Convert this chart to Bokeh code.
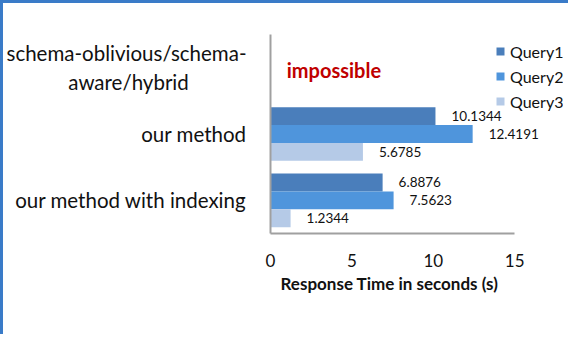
from bokeh.plotting import figure
from bokeh.models import (ColumnDataSource, FactorRange, Range1d, Legend, LegendItem,
                          FixedTicker, CustomJSTickFormatter, Title)
from bokeh.transform import dodge
from bokeh.core.properties import value
from bokeh.embed import file_html
from bokeh.resources import INLINE

# ---- data ----
categories = ["our method with indexing", "our method", "schema-oblivious/schema-aware/hybrid"]
measured = ["our method with indexing", "our method"]
query1 = [6.8876, 10.1344]
query2 = [7.5623, 12.4191]
query3 = [1.2344, 5.6785]
series_names = ["Query1", "Query2", "Query3"]
x_ticks = [0, 5, 10, 15]
x_title = "Response Time in seconds (s)"
note_text = "impossible"
note_category = "schema-oblivious/schema-aware/hybrid"
note_x = 1
wrapped_label = "schema-oblivious/schema-\naware/hybrid" + "\u00a0" * 11

colors = ["#4A7EBB", "#4F95DC", "#B5CAE7"]
offsets = [0.27, 0.0, -0.27]
FONT = "Lato"
BORDER = 3

p = figure(width=568, height=334, output_backend="svg", toolbar_location=None,
           x_range=Range1d(0, 18.0), y_range=FactorRange(*categories),
           min_border_left=260, min_border_right=8, min_border_top=31,
           min_border_bottom=104)
p.styles = {"border-top": f"{BORDER}px solid #3A7BC8", "border-left": f"{BORDER}px solid #3A7BC8"}
p.outline_line_color = None
p.xgrid.grid_line_color = None
p.ygrid.grid_line_color = None
p.background_fill_color = "white"
p.border_fill_color = "white"
p.y_range.range_padding = 0
p.y_range.factor_padding = 0

renderers = []
all_vals = [query1, query2, query3]
for name, vals, col, off in zip(series_names, all_vals, colors, offsets):
    src = ColumnDataSource(dict(y=measured, x=vals, lbl=[str(v) for v in vals]))
    r = p.hbar(y=dodge("y", off, range=p.y_range), right="x", left=0, height=0.27,
               source=src, fill_color=col, line_color=None)
    renderers.append(r)
    p.text(x="x", y=dodge("y", off, range=p.y_range), text="lbl", source=src,
           x_offset=16, text_align="left", text_baseline="middle",
           text_font=value(FONT), text_font_size="13.5px", text_color="#111111")

# note
p.text(x=[note_x], y=[note_category], text=[note_text], text_align="left",
       text_baseline="middle", y_offset=2, text_font=value(FONT),
       text_font_size="20px", text_font_style="bold", text_color="#C00000")

# axes
xa = p.xaxis[0]
xa.ticker = FixedTicker(ticks=x_ticks)
xa.bounds = (x_ticks[0], x_ticks[-1])
xa.axis_line_color = "#A0A0A0"
xa.axis_line_width = 2
xa.major_tick_line_color = None
xa.minor_tick_line_color = None
xa.major_label_text_font = FONT
xa.major_label_text_font_size = "17px"
xa.major_label_text_color = "#111111"
xa.major_label_standoff = 14

p.add_layout(Title(text=x_title, align="left", offset=10, standoff=2,
                   text_font=FONT, text_font_size="17px", text_font_style="bold",
                   text_color="#111111"), "below")

ya = p.yaxis[0]
ya.axis_line_color = "#A0A0A0"
ya.axis_line_width = 2
ya.major_tick_line_color = None
ya.minor_tick_line_color = None
ya.major_label_text_font = FONT
ya.major_label_text_font_size = "20.5px"
ya.major_label_text_color = "#111111"
ya.major_label_standoff = 18
ya.formatter = CustomJSTickFormatter(args=dict(full=note_category, wrapped=wrapped_label),
                                     code="return tick == full ? wrapped : tick;")

legend = Legend(items=[LegendItem(label=n, renderers=[r]) for n, r in zip(series_names, renderers)],
                location=(225, 122), padding=0, margin=0, spacing=5,
                glyph_width=10, glyph_height=10, label_height=20, label_standoff=5,
                label_text_font=FONT, label_text_font_size="16px", label_text_color="#111111",
                border_line_color=None, background_fill_alpha=0)
p.add_layout(legend)

open("out.html", "w").write(file_html(p, INLINE))
